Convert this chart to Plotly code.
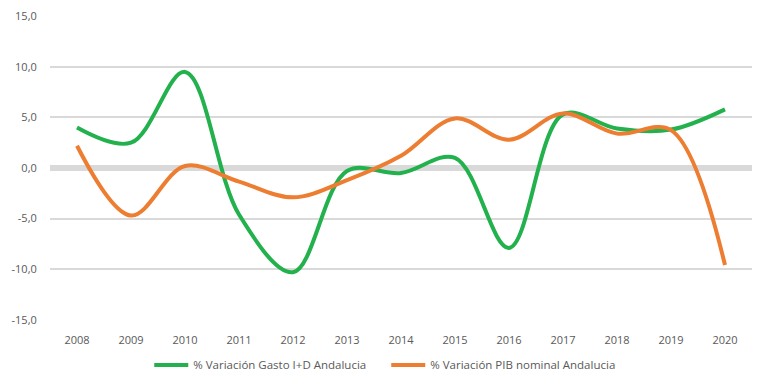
import plotly.graph_objects as go

years = ["2008", "2009", "2010", "2011", "2012", "2013", "2014", "2015", "2016", "2017", "2018", "2019", "2020"]
gasto_id = [4.0, 2.5, 9.5, -4.6, -10.3, -0.3, -0.5, 1.0, -7.9, 5.3, 3.9, 3.8, 5.8]
pib_nominal = [2.2, -4.7, 0.2, -1.35, -2.9, -1.2, 1.2, 4.9, 2.8, 5.4, 3.4, 3.75, -9.6]
y_ticks = [15, 10, 5, 0, -5, -10, -15]
y_tick_labels = ["15,0", "10,0", "5,0", "0,0", "-5,0", "-10,0", "-15,0"]

fig = go.Figure()
fig.add_trace(go.Scatter(
    x=years, y=gasto_id, mode="lines", name="% Variación Gasto I+D Andalucia",
    line=dict(color="#22B14C", width=4, shape="spline", smoothing=1.0),
))
fig.add_trace(go.Scatter(
    x=years, y=pib_nominal, mode="lines", name="% Variación PIB nominal Andalucia",
    line=dict(color="#ED7D31", width=4, shape="spline", smoothing=1.0),
))

fig.update_layout(
    width=768, height=389,
    margin=dict(l=42, r=24, t=8, b=77, autoexpand=False),
    paper_bgcolor="white", plot_bgcolor="white",
    font=dict(family="Open Sans, Lato, sans-serif", size=11, color="#595959"),
    showlegend=True,
    legend=dict(orientation="h", x=0.479, xanchor="center", y=-0.10, yanchor="top",
                font=dict(size=11.5, color="#595959"), itemwidth=34, tracegroupgap=0,
                entrywidth=188, entrywidthmode="pixels"),
    xaxis=dict(type="category", range=[-0.5, 12.5], showgrid=False, zeroline=False, showline=False,
               ticks="outside", ticklen=10, tickcolor="rgba(0,0,0,0)",
               tickfont=dict(size=11, color="#595959")),
    yaxis=dict(range=[-15.03, 15.03], tickvals=y_ticks, ticktext=y_tick_labels,
               showgrid=True, gridcolor="#D9D9D9", gridwidth=1.5,
               zeroline=True, zerolinecolor="#D9D9D9", zerolinewidth=6,
               showline=False, ticks="outside", ticklen=10, tickcolor="rgba(0,0,0,0)",
               ticklabeloverflow="allow",
               tickfont=dict(size=11, color="#595959")),
)

fig.write_html("out.html")
